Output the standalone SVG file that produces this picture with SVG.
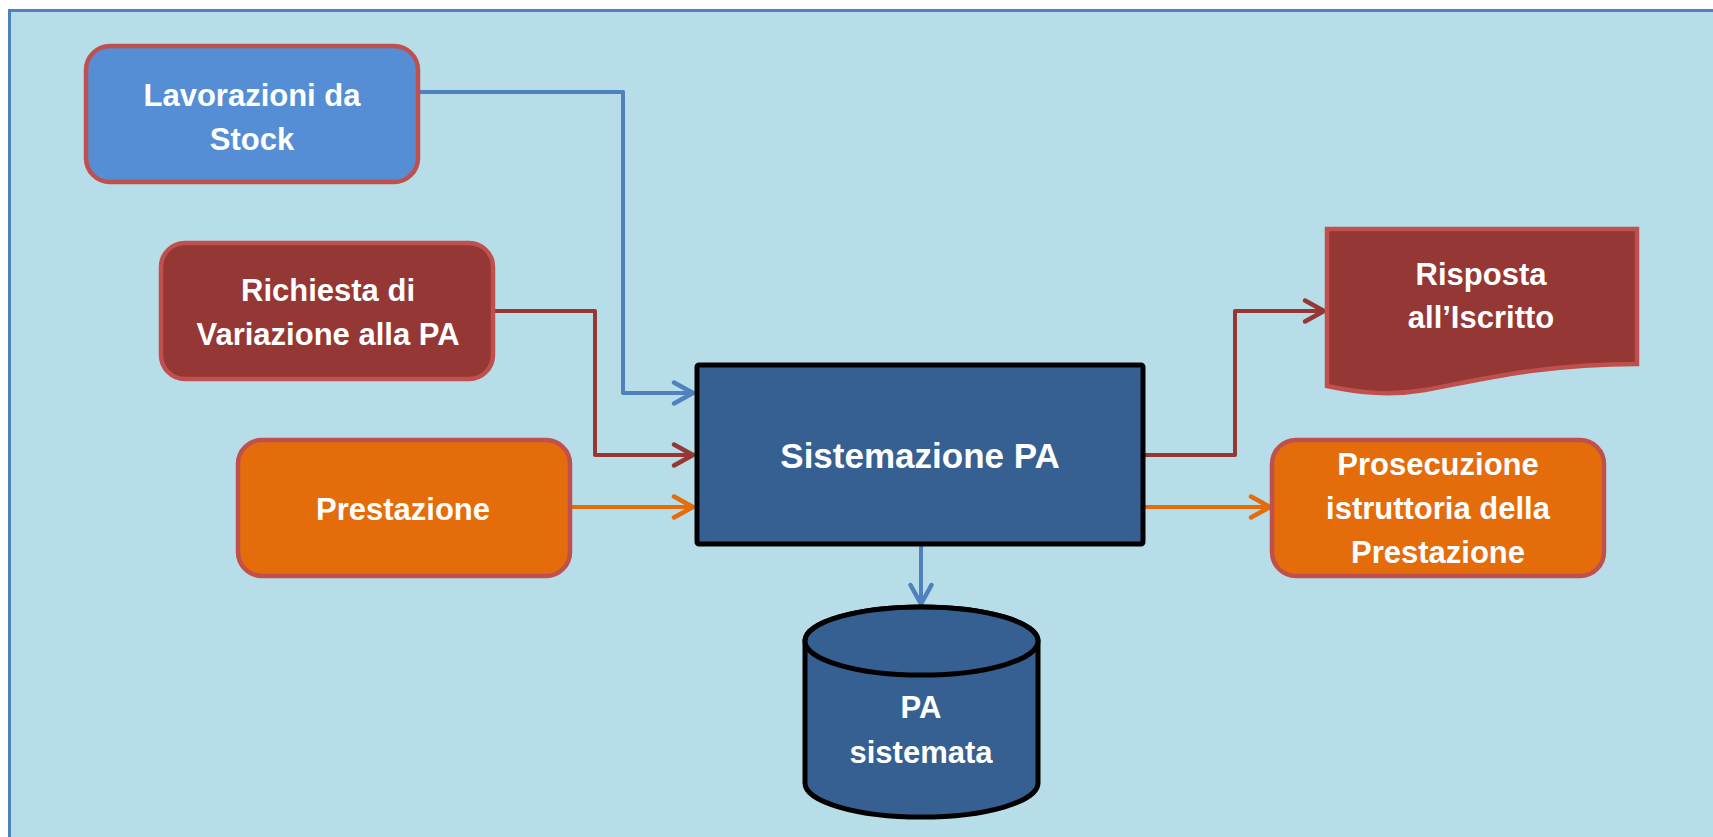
<svg xmlns="http://www.w3.org/2000/svg" width="1713" height="837" viewBox="0 0 1713 837">
<style>
.bg{fill:#B7DEE8;stroke:#4F81BD;stroke-width:3}
.nb{stroke:#C0504D;stroke-width:4.5}
.lblue{fill:#558ED5}
.dred{fill:#953735}
.orng{fill:#E46C0A}
.navy{fill:#366092;stroke:#000;stroke-width:5}
.t{font-family:"Liberation Sans",Arial,sans-serif;font-weight:bold;font-size:31px;fill:#fff;text-anchor:middle}
.big{font-size:35px}
.c{fill:none;stroke-width:4;stroke-linejoin:round}
.cb{stroke:#4F81BD}
.cr{stroke:#953735}
.co{stroke:#E46C0A}
</style>
<defs>
<marker id="ab" markerUnits="userSpaceOnUse" viewBox="-24 -14 28 28" refX="0" refY="0" markerWidth="28" markerHeight="28" orient="auto"><path d="M-19,-10.5 L0,0 L-19,10.5" fill="none" stroke="#4F81BD" stroke-width="4.5" stroke-linecap="round" stroke-linejoin="round"/></marker>
<marker id="ar" markerUnits="userSpaceOnUse" viewBox="-24 -14 28 28" refX="0" refY="0" markerWidth="28" markerHeight="28" orient="auto"><path d="M-19,-10.5 L0,0 L-19,10.5" fill="none" stroke="#953735" stroke-width="4.5" stroke-linecap="round" stroke-linejoin="round"/></marker>
<marker id="ao" markerUnits="userSpaceOnUse" viewBox="-24 -14 28 28" refX="0" refY="0" markerWidth="28" markerHeight="28" orient="auto"><path d="M-19,-10.5 L0,0 L-19,10.5" fill="none" stroke="#E46C0A" stroke-width="4.5" stroke-linecap="round" stroke-linejoin="round"/></marker>
</defs>
<rect class="bg" x="9.5" y="10.5" width="1720" height="840"/>
<g id="connectors">
<path class="c cb" d="M420,92 H623 V393 H693" marker-end="url(#ab)"/>
<path class="c cr" d="M495,311 H595 V455 H693" marker-end="url(#ar)"/>
<path class="c co" d="M571,507 H693" marker-end="url(#ao)"/>
<path class="c cr" d="M1145,455 H1235 V311 H1324" marker-end="url(#ar)"/>
<path class="c co" d="M1145,507 H1270" marker-end="url(#ao)"/>
<path class="c cb" d="M921,546 V604" marker-end="url(#ab)"/>
</g>
<g id="lavorazioni">
<rect class="nb lblue" x="86" y="46" width="332" height="136" rx="24"/>
<text class="t" x="252" y="106">Lavorazioni da</text>
<text class="t" x="252" y="150">Stock</text>
</g>
<g id="richiesta">
<rect class="nb dred" x="161" y="243" width="332" height="136" rx="24"/>
<text class="t" x="328" y="301">Richiesta di</text>
<text class="t" x="328" y="345">Variazione alla PA</text>
</g>
<g id="prestazione">
<rect class="nb orng" x="238" y="440" width="332" height="136" rx="24"/>
<text class="t" x="403" y="520">Prestazione</text>
</g>
<g id="sistemazione">
<rect class="navy" x="697" y="365" width="446" height="179" rx="2"/>
<text class="t big" x="920" y="468">Sistemazione PA</text>
</g>
<g id="pa-sistemata">
<path class="navy" d="M805,641 V783 A116.5,34 0 0 0 1038,783 V641 A116.5,34 0 0 0 805,641 Z"/>
<ellipse class="navy" cx="921.5" cy="641" rx="116.5" ry="34"/>
<text class="t" x="921" y="718">PA</text>
<text class="t" x="921" y="763">sistemata</text>
</g>
<g id="risposta">
<path class="nb dred" d="M1327,229 H1637 V364 C1540,364 1475,381 1425,390 C1390,396 1360,393 1327,386 Z"/>
<text class="t" x="1481" y="285">Risposta</text>
<text class="t" x="1481" y="328">all’Iscritto</text>
</g>
<g id="prosecuzione">
<rect class="nb orng" x="1272" y="440" width="332" height="136" rx="24"/>
<text class="t" x="1438" y="475">Prosecuzione</text>
<text class="t" x="1438" y="519">istruttoria della</text>
<text class="t" x="1438" y="563">Prestazione</text>
</g>
</svg>
